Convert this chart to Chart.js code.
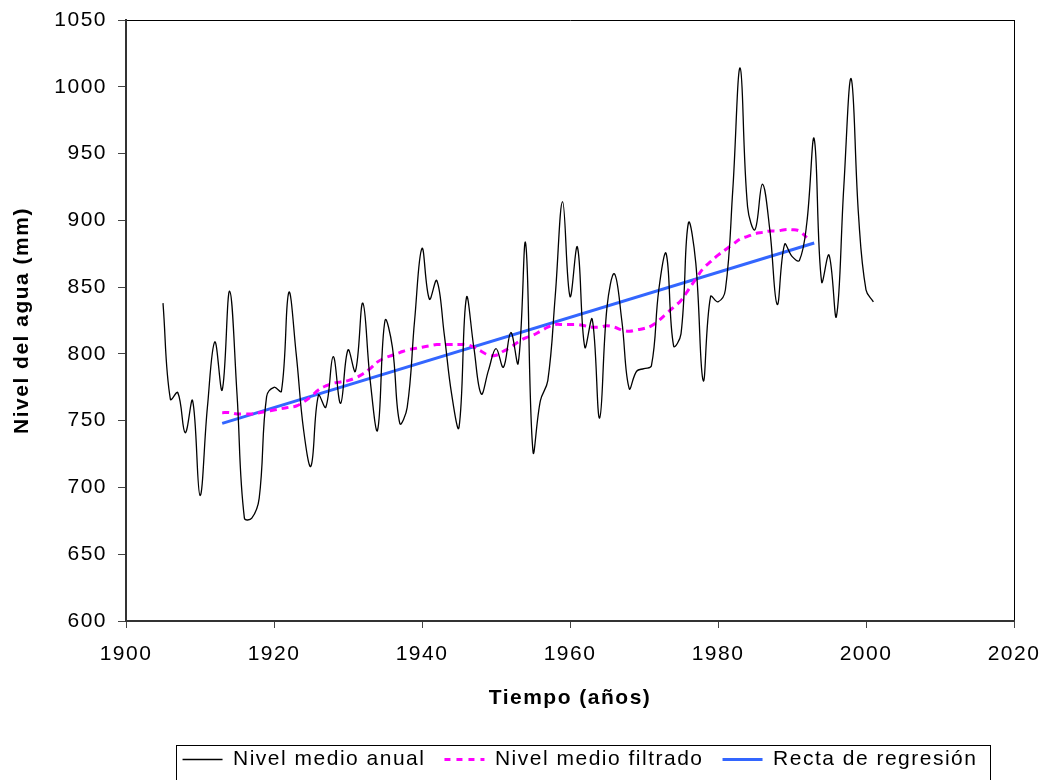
<!DOCTYPE html>
<html>
<head>
<meta charset="utf-8">
<script src="https://cdn.jsdelivr.net/npm/chart.js@4/dist/chart.umd.min.js"></script>
<style>
  body { margin: 0; background: #fff; }
  #wrap { width: 1047px; height: 780px; position: relative; }
</style>
</head>
<body>
<div id="wrap"><canvas id="chart"></canvas></div>
<script>
// Data
const years = [1905, 1906, 1907, 1908, 1909, 1910, 1911, 1912, 1913, 1914,
    1915, 1916, 1917, 1918, 1919, 1920, 1921, 1922, 1923, 1924,
    1925, 1926, 1927, 1928, 1929, 1930, 1931, 1932, 1933, 1934,
    1935, 1936, 1937, 1938, 1939, 1940, 1941, 1942, 1943, 1944,
    1945, 1946, 1947, 1948, 1949, 1950, 1951, 1952, 1953, 1954,
    1955, 1956, 1957, 1958, 1959, 1960, 1961, 1962, 1963, 1964,
    1965, 1966, 1967, 1968, 1969, 1970, 1971, 1972, 1973, 1974,
    1975, 1976, 1977, 1978, 1979, 1980, 1981, 1982, 1983, 1984,
    1985, 1986, 1987, 1988, 1989, 1990, 1991, 1992, 1993, 1994,
    1995, 1996, 1997, 1998, 1999, 2000, 2001];
const annualLevel = [838, 766, 771, 741, 765, 694, 760, 809, 773, 847,
    770, 677, 677, 692, 768, 775, 772, 846, 800, 743,
    716, 769, 760, 798, 763, 803, 787, 838, 780, 743,
    825, 805, 748, 760, 825, 879, 841, 855, 815, 770,
    745, 842, 805, 770, 788, 804, 790, 816, 793, 883,
    727, 765, 780, 843, 914, 843, 880, 805, 826, 752,
    835, 860, 825, 774, 787, 789, 791, 848, 875, 806,
    815, 898, 868, 780, 843, 839, 848, 923, 1014, 910,
    893, 927, 893, 837, 882, 873, 870, 898, 961, 854,
    874, 828, 925, 1006, 903, 848, 839];

const filteredYears = [1913, 1914, 1915, 1916, 1917, 1918, 1919, 1920, 1921, 1922,
    1923, 1924, 1925, 1926, 1927, 1928, 1929, 1930, 1931, 1932,
    1933, 1934, 1935, 1936, 1937, 1938, 1939, 1940, 1941, 1942,
    1943, 1944, 1945, 1946, 1947, 1948, 1949, 1950, 1951, 1952,
    1953, 1954, 1955, 1956, 1957, 1958, 1959, 1960, 1961, 1962,
    1963, 1964, 1965, 1966, 1967, 1968, 1969, 1970, 1971, 1972,
    1973, 1974, 1975, 1976, 1977, 1978, 1979, 1980, 1981, 1982,
    1983, 1984, 1985, 1986, 1987, 1988, 1989, 1990, 1991, 1992];
const filteredLevel = [756, 756, 755, 755, 755, 756, 757, 758, 759, 760,
    761, 764, 768, 773, 776, 778, 779, 780, 782, 785,
    789, 794, 797, 799, 801, 803, 804, 805, 806, 807,
    807, 807, 807, 807, 805, 802, 799, 799, 802, 805,
    809, 812, 814, 817, 820, 822, 822, 822, 822, 821,
    820, 820, 821, 820, 818, 817, 818, 819, 821, 825,
    830, 835, 840, 848, 856, 864, 869, 874, 878, 882,
    886, 888, 890, 891, 892, 892, 893, 893, 892, 887];

const regressionYears = [1913, 1993];
const regressionLevel = [748, 883];

const xTicks = [1900, 1920, 1940, 1960, 1980, 2000, 2020];
const yTicks = [600, 650, 700, 750, 800, 850, 900, 950, 1000, 1050];

const FONT = 'Arial, "Liberation Sans", sans-serif';

function toPoints(xs, ys) {
    return xs.map((x, i) => ({ x: x, y: ys[i] }));
}

// wider letter spacing, like the original Excel rendering
const spacingPlugin = {
    id: 'spacing',
    beforeUpdate(chart) { chart.ctx.letterSpacing = '1.5px'; },
    beforeLayout(chart) { chart.ctx.letterSpacing = '1.5px'; },
    afterLayout(chart) {
        // legend sits a bit right of the plot centre in the original
        chart.legend.left += 20;
    },
    beforeDraw(chart) { chart.ctx.letterSpacing = '1.5px'; }
};

// frame round the legend
const legendFrame = {
    id: 'legendFrame',
    afterDraw(chart) {
        const boxes = chart.legend.legendHitBoxes;
        if (!boxes || !boxes.length) return;
        const first = boxes[0];
        const last = boxes[boxes.length - 1];
        const ctx = chart.ctx;
        const cy = first.top + first.height / 2;
        ctx.save();
        ctx.strokeStyle = '#000';
        ctx.lineWidth = 1;
        ctx.strokeRect(Math.round(first.left - 7) + 0.5, Math.round(cy - 15) + 0.5,
            Math.round(last.left + last.width + 19 - first.left), 60);
        ctx.restore();
    }
};

new Chart(document.getElementById('chart'), {
    type: 'scatter',
    data: {
        datasets: [
            {
                label: 'Nivel medio anual',
                data: toPoints(years, annualLevel),
                showLine: true,
                borderColor: '#000000',
                backgroundColor: '#000000',
                borderWidth: 1.3,
                pointRadius: 0,
                tension: 0.4
            },
            {
                label: 'Nivel medio filtrado',
                data: toPoints(filteredYears, filteredLevel),
                showLine: true,
                borderColor: '#ff00ff',
                backgroundColor: '#ff00ff',
                borderWidth: 3,
                borderDash: [7, 5],
                pointRadius: 0,
                tension: 0.4
            },
            {
                label: 'Recta de regresión',
                data: toPoints(regressionYears, regressionLevel),
                showLine: true,
                borderColor: '#3366ff',
                backgroundColor: '#3366ff',
                borderWidth: 3,
                pointRadius: 0,
                tension: 0
            }
        ]
    },
    options: {
        responsive: true,
        maintainAspectRatio: false,
        animation: false,
        layout: { padding: { left: 0, top: 20, right: 33, bottom: 0 } },
        plugins: {
            tooltip: { enabled: false },
            legend: {
                position: 'bottom',
                fullSize: false,
                labels: {
                    usePointStyle: true,
                    pointStyle: 'line',
                    pointStyleWidth: 40,
                    padding: 19,
                    color: '#000',
                    font: { family: FONT, size: 21 },
                    generateLabels: chart => {
                        const items = Chart.defaults.plugins.legend.labels.generateLabels(chart);
                        items.forEach(item => {
                            const ds = chart.data.datasets[item.datasetIndex];
                            item.lineDash = ds.borderDash ? [6, 6] : [];
                        });
                        return items;
                    }
                }
            }
        },
        scales: {
            x: {
                type: 'linear',
                min: xTicks[0],
                max: xTicks[xTicks.length - 1],
                afterBuildTicks: scale => { scale.ticks = xTicks.map(v => ({ value: v })); },
                afterFit: scale => {
                    scale.height = 109;
                    scale.paddingLeft = 0;
                    scale.paddingRight = 0;
                },
                ticks: {
                    color: '#000',
                    padding: 14,
                    maxRotation: 0,
                    font: { family: FONT, size: 21 },
                    callback: v => String(v)
                },
                grid: {
                    color: ctx => (ctx.tick && ctx.tick.value === 2020) ? '#000' : 'rgba(0,0,0,0)',
                    tickColor: '#444',
                    tickLength: 7,
                    lineWidth: 1
                },
                border: { color: '#333', width: 2 },
                title: {
                    display: true,
                    text: 'Tiempo (años)',
                    color: '#000',
                    font: { family: FONT, size: 21, weight: 'bold' },
                    padding: { top: 0, bottom: 19 }
                }
            },
            y: {
                min: yTicks[0],
                max: yTicks[yTicks.length - 1],
                afterBuildTicks: scale => { scale.ticks = yTicks.map(v => ({ value: v })); },
                afterFit: scale => {
                    scale.width = 126;
                    scale.paddingTop = 0;
                    scale.paddingBottom = 0;
                },
                ticks: {
                    color: '#000',
                    padding: 11,
                    font: { family: FONT, size: 21 },
                    callback: v => String(v)
                },
                grid: {
                    color: ctx => (ctx.tick && ctx.tick.value === 1050) ? '#000' : 'rgba(0,0,0,0)',
                    tickColor: '#444',
                    tickLength: 8,
                    lineWidth: 1
                },
                border: { color: '#333', width: 2 },
                title: {
                    display: true,
                    text: 'Nivel del agua (mm)',
                    color: '#000',
                    font: { family: FONT, size: 21, weight: 'bold' },
                    padding: { top: 10, bottom: 0 }
                }
            }
        }
    },
    plugins: [spacingPlugin, legendFrame]
});
</script>
</body>
</html>
